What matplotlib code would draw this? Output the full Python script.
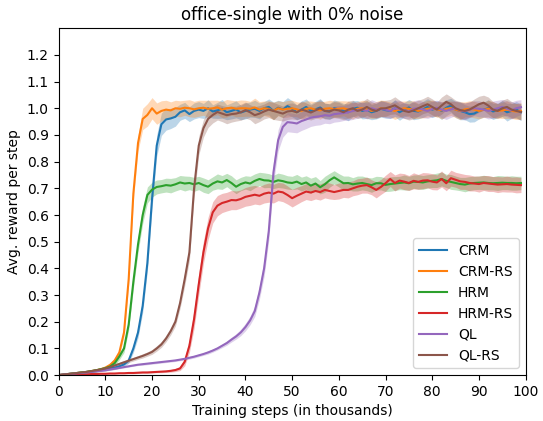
import numpy as np
import matplotlib
matplotlib.use("Agg")
import matplotlib.pyplot as plt

steps = np.arange(0, 100)  # training steps, in thousands

crm = [0, 0.002, 0.004, 0.006, 0.008, 0.01, 0.012, 0.014, 0.017, 0.02,
       0.022, 0.025, 0.028, 0.033, 0.04, 0.055, 0.1, 0.16, 0.26, 0.42,
       0.66, 0.86, 0.94, 0.958, 0.962, 0.968, 0.985, 0.992, 0.978, 0.99,
       0.995, 0.99, 1.0, 0.988, 0.992, 0.998, 0.985, 0.99, 0.996, 0.984,
       0.99, 0.995, 0.998, 0.99, 1.0, 1.005, 0.99, 1.002, 0.995, 1.008,
       0.998, 0.985, 0.995, 1.005, 0.99, 0.996, 1.003, 0.99, 0.988, 1.0,
       0.996, 0.99, 0.985, 0.998, 1.002, 0.99, 0.995, 0.985, 0.99, 0.998,
       0.993, 0.99, 1.0, 0.985, 0.995, 1.003, 0.99, 0.988, 0.996, 1.005,
       0.995, 1.0, 0.99, 1.002, 1.01, 0.995, 0.99, 0.985, 0.978, 0.98,
       0.99, 0.995, 1.0, 0.988, 0.992, 0.998, 0.985, 0.99, 0.995, 0.985]
crm_rs = [0, 0.002, 0.004, 0.006, 0.008, 0.01, 0.012, 0.015, 0.018, 0.022,
          0.028, 0.038, 0.055, 0.085, 0.16, 0.36, 0.68, 0.87, 0.96, 0.975,
          1.0, 0.98, 0.99, 0.995, 0.992, 1.0, 0.998, 1.002, 1.0, 0.996,
          1.0, 1.002, 0.998, 1.0, 1.003, 0.995, 1.0, 1.002, 0.998, 1.0,
          1.0, 0.998, 1.003, 0.995, 1.0, 0.998, 0.99, 1.0, 0.995, 0.998,
          1.0, 0.996, 0.99, 0.998, 1.0, 0.995, 0.992, 0.998, 1.0, 0.996,
          0.998, 1.0, 0.995, 0.99, 0.998, 1.0, 0.996, 0.99, 0.995, 1.0,
          0.998, 0.995, 0.99, 0.996, 1.0, 0.998, 0.995, 0.99, 0.994, 0.998,
          1.0, 0.996, 0.992, 0.998, 1.0, 0.995, 0.99, 0.996, 0.998, 0.995,
          0.99, 0.994, 0.998, 0.995, 0.99, 0.992, 0.995, 0.99, 0.988, 0.99]
hrm = [0, 0.002, 0.004, 0.006, 0.008, 0.01, 0.012, 0.015, 0.018, 0.022,
       0.026, 0.032, 0.045, 0.07, 0.1, 0.19, 0.35, 0.49, 0.6, 0.675,
       0.695, 0.705, 0.708, 0.712, 0.71, 0.715, 0.722, 0.718, 0.72, 0.715,
       0.72, 0.712, 0.706, 0.718, 0.726, 0.722, 0.731, 0.72, 0.706, 0.716,
       0.722, 0.718, 0.728, 0.735, 0.73, 0.729, 0.724, 0.73, 0.727, 0.722,
       0.72, 0.725, 0.716, 0.722, 0.71, 0.718, 0.704, 0.715, 0.73, 0.741,
       0.73, 0.719, 0.72, 0.715, 0.718, 0.72, 0.716, 0.712, 0.719, 0.719,
       0.713, 0.716, 0.718, 0.72, 0.722, 0.719, 0.725, 0.724, 0.722, 0.726,
       0.728, 0.73, 0.735, 0.728, 0.724, 0.72, 0.716, 0.714, 0.718, 0.72,
       0.721, 0.722, 0.72, 0.719, 0.72, 0.721, 0.72, 0.72, 0.719, 0.72]
hrm_rs = [0, 0.001, 0.001, 0.002, 0.002, 0.003, 0.003, 0.004, 0.004, 0.005,
          0.005, 0.006, 0.006, 0.007, 0.007, 0.008, 0.008, 0.009, 0.01, 0.01,
          0.011, 0.012, 0.013, 0.014, 0.016, 0.019, 0.025, 0.05, 0.11, 0.21,
          0.34, 0.46, 0.55, 0.61, 0.635, 0.645, 0.65, 0.656, 0.655, 0.66,
          0.668, 0.672, 0.676, 0.672, 0.68, 0.684, 0.68, 0.688, 0.685, 0.675,
          0.663, 0.672, 0.68, 0.688, 0.684, 0.69, 0.686, 0.694, 0.69, 0.686,
          0.69, 0.694, 0.694, 0.7, 0.706, 0.71, 0.712, 0.704, 0.694, 0.705,
          0.719, 0.735, 0.72, 0.729, 0.725, 0.72, 0.728, 0.724, 0.729, 0.73,
          0.725, 0.722, 0.735, 0.719, 0.738, 0.732, 0.726, 0.724, 0.72, 0.718,
          0.716, 0.72, 0.718, 0.716, 0.714, 0.715, 0.716, 0.714, 0.713, 0.712]
ql = [0, 0.002, 0.004, 0.005, 0.007, 0.008, 0.01, 0.012, 0.014, 0.016,
      0.018, 0.021, 0.024, 0.027, 0.03, 0.033, 0.036, 0.039, 0.041, 0.043,
      0.045, 0.047, 0.049, 0.051, 0.053, 0.055, 0.058, 0.061, 0.065, 0.069,
      0.074, 0.079, 0.085, 0.092, 0.1, 0.11, 0.12, 0.133, 0.145, 0.16,
      0.18, 0.205, 0.24, 0.31, 0.4, 0.54, 0.76, 0.88, 0.93, 0.948,
      0.946, 0.943, 0.952, 0.958, 0.965, 0.968, 0.97, 0.974, 0.972, 0.978,
      0.98, 0.982, 0.985, 0.99, 0.993, 0.995, 0.99, 1.0, 0.995, 0.998,
      0.995, 0.99, 1.0, 0.998, 0.992, 0.988, 0.998, 1.0, 0.995, 0.99,
      0.998, 1.002, 0.995, 0.99, 0.996, 1.0, 0.992, 0.988, 0.995, 1.0,
      0.998, 0.995, 0.99, 0.995, 1.0, 1.005, 0.998, 0.992, 1.0, 1.004]
ql_rs = [0, 0.002, 0.004, 0.006, 0.008, 0.01, 0.012, 0.015, 0.018, 0.021,
         0.025, 0.03, 0.036, 0.042, 0.048, 0.054, 0.06, 0.066, 0.072, 0.079,
         0.087, 0.1, 0.115, 0.137, 0.165, 0.2, 0.27, 0.36, 0.46, 0.7,
         0.86, 0.925, 0.96, 0.975, 0.986, 0.98, 0.974, 0.978, 0.98, 0.985,
         0.993, 0.985, 0.974, 0.98, 0.988, 0.995, 0.99, 0.985, 0.98, 0.988,
         0.99, 0.985, 0.995, 0.99, 0.984, 0.992, 1.0, 0.99, 0.988, 0.995,
         0.992, 0.985, 0.995, 1.0, 0.99, 0.995, 1.005, 0.995, 0.99, 0.999,
         1.0, 1.005, 1.011, 1.0, 0.99, 0.986, 0.992, 1.0, 1.008, 1.015,
         1.005, 0.995, 1.01, 1.024, 1.015, 1.0, 0.993, 0.99, 0.995, 1.005,
         1.015, 1.021, 1.01, 0.995, 0.99, 1.0, 1.005, 0.995, 0.99, 0.986]

# half-width of the shaded band around each mean curve
crm_err = [0.001, 0.002, 0.003, 0.003, 0.004, 0.004, 0.005, 0.005, 0.005, 0.006,
           0.006, 0.006, 0.007, 0.007, 0.008, 0.01, 0.015, 0.02, 0.025, 0.03,
           0.035, 0.04, 0.042, 0.04, 0.038, 0.035, 0.03, 0.03, 0.028, 0.03,
           0.03, 0.028, 0.032, 0.025, 0.03, 0.035, 0.028, 0.03, 0.032, 0.027,
           0.03, 0.028, 0.032, 0.03, 0.025, 0.03, 0.033, 0.028, 0.03, 0.032,
           0.03, 0.028, 0.032, 0.03, 0.027, 0.03, 0.033, 0.028, 0.03, 0.031,
           0.03, 0.028, 0.032, 0.03, 0.027, 0.03, 0.033, 0.028, 0.03, 0.031,
           0.03, 0.028, 0.032, 0.03, 0.027, 0.03, 0.033, 0.028, 0.03, 0.031,
           0.03, 0.028, 0.032, 0.03, 0.027, 0.03, 0.033, 0.028, 0.03, 0.031,
           0.03, 0.028, 0.032, 0.03, 0.027, 0.03, 0.033, 0.028, 0.03, 0.031]
crm_rs_err = [0.001, 0.002, 0.003, 0.003, 0.004, 0.004, 0.005, 0.005, 0.006, 0.006,
              0.007, 0.008, 0.01, 0.012, 0.015, 0.02, 0.025, 0.03, 0.04, 0.042,
              0.04, 0.04, 0.038, 0.035, 0.032, 0.03, 0.03, 0.028, 0.032, 0.03,
              0.03, 0.028, 0.032, 0.03, 0.027, 0.03, 0.033, 0.028, 0.03, 0.031,
              0.03, 0.028, 0.035, 0.03, 0.027, 0.03, 0.033, 0.028, 0.03, 0.031,
              0.03, 0.028, 0.032, 0.03, 0.027, 0.03, 0.033, 0.028, 0.03, 0.031,
              0.03, 0.028, 0.032, 0.03, 0.027, 0.03, 0.033, 0.028, 0.03, 0.031,
              0.03, 0.028, 0.032, 0.03, 0.027, 0.03, 0.033, 0.028, 0.03, 0.031,
              0.03, 0.028, 0.032, 0.03, 0.027, 0.03, 0.033, 0.028, 0.03, 0.031,
              0.03, 0.028, 0.032, 0.03, 0.027, 0.03, 0.033, 0.028, 0.03, 0.031]
hrm_err = [0.001, 0.002, 0.003, 0.003, 0.004, 0.004, 0.005, 0.005, 0.006, 0.006,
           0.007, 0.008, 0.01, 0.012, 0.015, 0.02, 0.025, 0.03, 0.032, 0.03,
           0.028, 0.026, 0.025, 0.026, 0.027, 0.025, 0.026, 0.028, 0.025, 0.026,
           0.025, 0.027, 0.026, 0.025, 0.028, 0.026, 0.025, 0.027, 0.026, 0.025,
           0.025, 0.027, 0.026, 0.025, 0.028, 0.026, 0.025, 0.027, 0.026, 0.025,
           0.025, 0.027, 0.026, 0.025, 0.028, 0.026, 0.025, 0.03, 0.026, 0.025,
           0.025, 0.027, 0.026, 0.025, 0.028, 0.026, 0.025, 0.027, 0.026, 0.025,
           0.025, 0.027, 0.026, 0.025, 0.028, 0.026, 0.025, 0.027, 0.026, 0.025,
           0.025, 0.027, 0.026, 0.025, 0.028, 0.026, 0.025, 0.027, 0.026, 0.025,
           0.025, 0.027, 0.026, 0.025, 0.028, 0.026, 0.025, 0.027, 0.026, 0.025]
hrm_rs_err = [0.001, 0.001, 0.001, 0.001, 0.001, 0.001, 0.002, 0.002, 0.002, 0.002,
              0.002, 0.002, 0.002, 0.002, 0.002, 0.003, 0.003, 0.003, 0.003, 0.003,
              0.003, 0.003, 0.004, 0.004, 0.005, 0.006, 0.008, 0.015, 0.025, 0.035,
              0.04, 0.042, 0.042, 0.04, 0.038, 0.036, 0.035, 0.036, 0.035, 0.034,
              0.035, 0.036, 0.035, 0.034, 0.035, 0.036, 0.035, 0.034, 0.035, 0.034,
              0.033, 0.032, 0.03, 0.03, 0.03, 0.03, 0.03, 0.03, 0.03, 0.028,
              0.03, 0.028, 0.03, 0.028, 0.03, 0.028, 0.03, 0.028, 0.03, 0.028,
              0.03, 0.028, 0.03, 0.028, 0.03, 0.028, 0.03, 0.028, 0.03, 0.028,
              0.03, 0.028, 0.03, 0.028, 0.03, 0.028, 0.03, 0.028, 0.03, 0.028,
              0.03, 0.028, 0.03, 0.028, 0.03, 0.028, 0.03, 0.028, 0.03, 0.028]
ql_err = [0.001, 0.001, 0.001, 0.002, 0.002, 0.002, 0.002, 0.002, 0.003, 0.003,
          0.003, 0.003, 0.003, 0.003, 0.003, 0.003, 0.003, 0.003, 0.004, 0.004,
          0.004, 0.004, 0.004, 0.004, 0.004, 0.004, 0.004, 0.005, 0.005, 0.005,
          0.005, 0.005, 0.006, 0.006, 0.006, 0.007, 0.008, 0.009, 0.01, 0.012,
          0.014, 0.016, 0.02, 0.025, 0.03, 0.035, 0.04, 0.04, 0.038, 0.036,
          0.036, 0.035, 0.035, 0.034, 0.033, 0.032, 0.032, 0.03, 0.03, 0.03,
          0.03, 0.028, 0.03, 0.032, 0.03, 0.028, 0.03, 0.032, 0.03, 0.028,
          0.03, 0.028, 0.03, 0.032, 0.03, 0.028, 0.03, 0.032, 0.03, 0.028,
          0.03, 0.028, 0.03, 0.032, 0.03, 0.028, 0.03, 0.032, 0.03, 0.028,
          0.03, 0.028, 0.03, 0.032, 0.03, 0.028, 0.03, 0.032, 0.03, 0.028]
ql_rs_err = [0.001, 0.002, 0.002, 0.003, 0.003, 0.004, 0.004, 0.005, 0.005, 0.005,
             0.006, 0.006, 0.006, 0.006, 0.007, 0.007, 0.007, 0.007, 0.008, 0.008,
             0.009, 0.01, 0.011, 0.012, 0.014, 0.016, 0.02, 0.025, 0.03, 0.035,
             0.035, 0.033, 0.032, 0.03, 0.03, 0.03, 0.032, 0.03, 0.028, 0.03,
             0.03, 0.028, 0.032, 0.03, 0.028, 0.03, 0.032, 0.03, 0.028, 0.03,
             0.03, 0.028, 0.032, 0.03, 0.028, 0.03, 0.032, 0.03, 0.028, 0.03,
             0.03, 0.028, 0.032, 0.03, 0.028, 0.03, 0.032, 0.03, 0.028, 0.03,
             0.03, 0.028, 0.032, 0.03, 0.028, 0.03, 0.032, 0.03, 0.028, 0.03,
             0.03, 0.028, 0.032, 0.03, 0.028, 0.03, 0.032, 0.03, 0.028, 0.03,
             0.03, 0.028, 0.032, 0.03, 0.028, 0.03, 0.032, 0.03, 0.028, 0.03]

labels = ['CRM', 'CRM-RS', 'HRM', 'HRM-RS', 'QL', 'QL-RS']
means = [crm, crm_rs, hrm, hrm_rs, ql, ql_rs]
errs = [crm_err, crm_rs_err, hrm_err, hrm_rs_err, ql_err, ql_rs_err]

fig, ax = plt.subplots(figsize=(5.43, 4.21), dpi=100)
fig.subplots_adjust(left=0.108, right=0.968, bottom=0.109, top=0.933)

for name, m, e in zip(labels, means, errs):
    m = np.array(m)
    e = np.array(e)
    line, = ax.plot(steps, m, label=name, linewidth=1.5)
    ax.fill_between(steps, m - e, m + e, color=line.get_color(), alpha=0.3, linewidth=0)

ax.set_xlim(0, 100)
ax.set_ylim(0, 1.3)
ax.set_xticks(np.arange(0, 101, 10))
ax.set_yticks(np.arange(0, 1.21, 0.1))
ax.set_xlabel('Training steps (in thousands)')
ax.set_ylabel('Avg. reward per step')
ax.set_title('office-single with 0% noise')
ax.legend(loc='lower right')

fig.savefig('out.png', dpi=100)
